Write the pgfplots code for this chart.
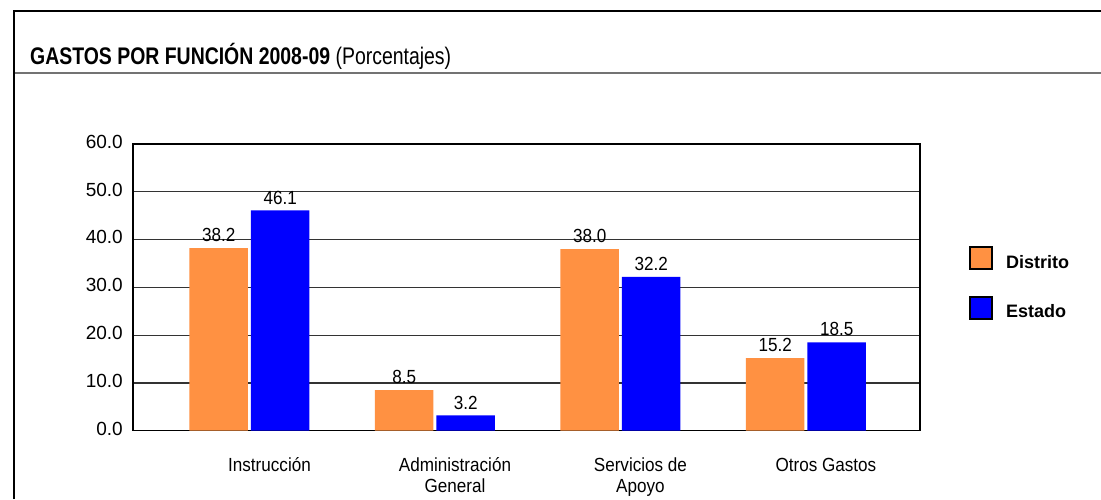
\documentclass[border=0pt]{standalone}
\usepackage{pgfplots}
\pgfplotsset{compat=1.18}
\usepackage{fontspec}
\setmainfont{Liberation Sans}
\newfontfamily\titlefont{Liberation Sans}[FakeStretch=0.81]
\newfontfamily\narrowfont{Liberation Sans}[FakeStretch=0.9]
\definecolor{distrito}{RGB}{255,145,66}
\definecolor{estado}{RGB}{0,0,255}
\begin{document}
\begin{tikzpicture}
\path[use as bounding box] (0,0) rectangle (1101pt,499pt);
\draw[line width=2pt] (14pt,0) -- (14pt,488pt) -- (1101pt,488pt);
\draw[black!55, line width=1.6pt] (15pt,426pt) -- (1101pt,426pt);
\node[anchor=base west, inner sep=0pt, font=\titlefont\fontsize{24}{28}\selectfont] at (30pt,434pt) {\textbf{GASTOS POR FUNCIÓN 2008-09} (Porcentajes)};
\begin{axis}[
  at={(133pt,68.3pt)}, anchor=south west,
  scale only axis, width=787pt, height=286.7pt,
  ybar=3pt, bar width=58.5pt,
  xmin=-0.628, xmax=3.615, ymin=0, ymax=60,
  xtick={0,1,2,3},
  xticklabels={{Instrucción},{Administración\\General},{Servicios de\\Apoyo},{Otros Gastos}},
  ytick={0,10,20,30,40,50,60},
  major tick length=0pt,
  ymajorgrids,
  grid style={black!80, line width=1.2pt},
  axis line style={black, line width=1.3pt},
  /pgf/number format/.cd, fixed, fixed zerofill, precision=1, assume math mode=true,
  /pgfplots/.cd,
  yticklabel style={font=\fontsize{19}{22}\selectfont, inner sep=0pt, xshift=-10pt},
  xticklabel style={font=\narrowfont\fontsize{19}{21}\selectfont, align=center, anchor=north, inner sep=0pt, yshift=-25.5pt, xshift=20pt},
  typeset ticklabels with strut,
  nodes near coords,
  nodes near coords style={font=\narrowfont\fontsize{19}{22}\selectfont, inner sep=0pt, anchor=south, yshift=6pt},
  legend style={draw=none, fill=none, at={(1.0623,0.644)}, anchor=north west, inner sep=0pt, row sep=26pt,
    font=\fontsize{18}{21}\selectfont\bfseries,
    nodes={inner sep=0pt, anchor=base west}},
  legend cell align=left,
  /tikz/every odd column/.append style={column sep=13pt},
  legend image code/.code={\draw[#1, draw=black, line width=1.8pt] (0pt,-1pt) rectangle (22pt,21pt);},
]
\addplot[fill=distrito, draw=none] coordinates {(0,38.2) (1,8.5) (2,38.0) (3,15.2)};
\addplot[fill=estado, draw=none] coordinates {(0,46.1) (1,3.2) (2,32.2) (3,18.5)};
\legend{Distrito, Estado}
\end{axis}
\end{tikzpicture}
\end{document}
